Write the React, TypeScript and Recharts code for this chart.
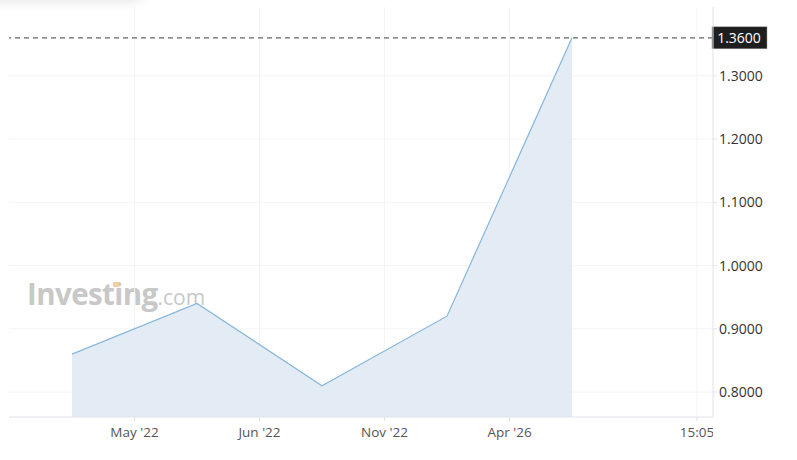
import React from "react";
import {
  AreaChart,
  Area,
  XAxis,
  YAxis,
  CartesianGrid,
  ReferenceLine,
} from "recharts";

// point positions are sequential observation indices
const pointIndex = [0, 1, 2, 3, 4];
const rates = [0.86, 0.94, 0.81, 0.92, 1.36];

const xTickPos = [0.5, 1.5, 2.5, 3.5, 5];
const xTickLabels = ["May '22", "Jun '22", "Nov '22", "Apr '26", "15:05"];

const yTicks = [0.8, 0.9, 1.0, 1.1, 1.2, 1.3];
const lastValue = 1.36;

const data = pointIndex.map((i, k) => ({ i, value: rates[k] }));

const FONT = "'Open Sans', 'Noto Sans', sans-serif";
const W = 797;
const H = 460;
const Y_AXIS_W = 84;

function LastLabel(props: any) {
  const { viewBox } = props;
  if (!viewBox) return null;
  const x = viewBox.x + viewBox.width;
  const y = viewBox.y;
  return (
    <g>
      <rect x={x - 1} y={y - 11} width={55} height={22} fill="#1e1e1e" stroke="#999" strokeWidth={0.5} />
      <text x={x + 26} y={y + 5} textAnchor="middle" fill="#fff" fontSize={14} fontFamily={FONT}>
        {lastValue.toFixed(4)}
      </text>
    </g>
  );
}

// x tick label, clipped at the price axis like the original
function XTick(props: any) {
  const { x, y, payload } = props;
  const label = xTickLabels[xTickPos.indexOf(payload.value)] ?? "";
  return (
    <text
      x={x}
      y={y + 14}
      textAnchor="middle"
      fill="#555"
      fontSize={13.5}
      fontFamily={FONT}
      clipPath="url(#xclip)"
    >
      {label}
    </text>
  );
}

export default function App() {
  return (
    <div style={{ position: "absolute", left: 0, top: 0, width: W, height: H, background: "#fff", overflow: "hidden" }}>
      <svg width={0} height={0} style={{ position: "absolute" }}>
        <defs>
          <clipPath id="xclip" clipPathUnits="userSpaceOnUse">
            <rect x={0} y={0} width={W - Y_AXIS_W} height={H} />
          </clipPath>
        </defs>
      </svg>
      <div
        style={{
          position: "absolute",
          left: -10,
          top: -16,
          width: 150,
          height: 16,
          boxShadow: "0 0 14px rgba(0,0,0,0.13)",
          background: "#fff",
        }}
      />
      <div
        style={{
          position: "absolute",
          left: 27,
          top: 274,
          fontFamily: FONT,
          color: "#c8c8c8",
          whiteSpace: "nowrap",
          pointerEvents: "none",
          lineHeight: "40px",
        }}
      >
        <span style={{ fontSize: 29.5, fontWeight: 700, letterSpacing: -0.6 }}>Investing</span>
        <span style={{ fontSize: 21, fontWeight: 400 }}>.com</span>
      </div>
      <div
        style={{
          position: "absolute",
          left: 113,
          top: 282,
          width: 6,
          height: 5,
          background: "#f5cf9f",
        }}
      />
      <AreaChart
        width={W}
        height={H}
        data={data}
        margin={{ top: 7, right: 0, left: 9, bottom: 0 }}
        style={{ position: "absolute", left: 0, top: 0 }}
      >
        <CartesianGrid stroke="#f4f4f6" syncWithTicks />
        <XAxis
          dataKey="i"
          type="number"
          domain={[-0.504, 5.128]}
          ticks={xTickPos}
          allowDataOverflow
          height={43}
          stroke="#e0e3eb"
          tickSize={4}
          tick={<XTick />}
          tickLine={{ stroke: "#e0e3eb" }}
        />
        <YAxis
          orientation="right"
          type="number"
          domain={[0.7606, 1.4087]}
          ticks={yTicks}
          allowDataOverflow
          width={Y_AXIS_W}
          stroke="#e0e3eb"
          tickSize={4}
          tickFormatter={(v: number) => v.toFixed(4)}
          tick={{ fill: "#333", fontSize: 14, fontFamily: FONT, textAnchor: "start" }}
          tickLine={{ stroke: "#e0e3eb" }}
        />
        <Area
          type="linear"
          dataKey="value"
          stroke="#86b6dc"
          strokeWidth={1.2}
          fill="#e3ecf5"
          fillOpacity={1}
          isAnimationActive={false}
          dot={false}
          activeDot={false}
        />
        <ReferenceLine
          y={lastValue}
          stroke="#666"
          strokeDasharray="5 4"
          strokeWidth={1.2}
          label={<LastLabel />}
        />
      </AreaChart>
    </div>
  );
}
